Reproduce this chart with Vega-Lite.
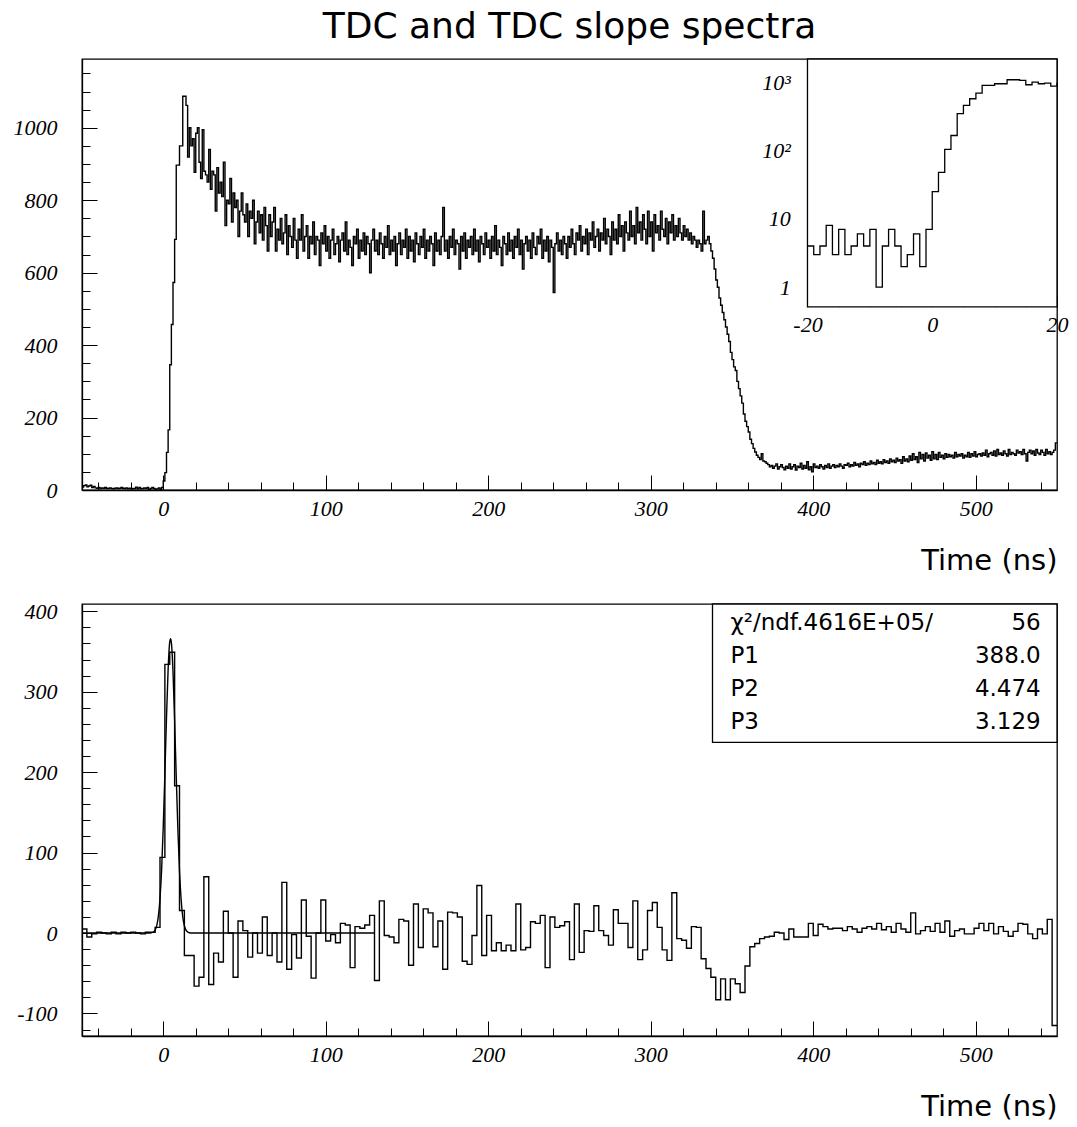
{
  "$schema": "https://vega.github.io/schema/vega-lite/v6.json",
  "autosize": {"type": "none"},
  "padding": {"left": 82, "top": 59, "right": 20, "bottom": 1068},
  "background": "white",
  "title": {"text": "TDC and TDC slope spectra", "font": "DejaVu Sans", "fontSize": 36, "fontWeight": "normal", "anchor": "middle", "frame": "group", "baseline": "alphabetic", "offset": -24, "color": "black"},
  "spacing": 114,
  "bounds": "flush",
  "config": {
    "view": {"stroke": "black", "strokeWidth": 1.3},
    "axis": {"labelFont": "Liberation Serif", "labelFontStyle": "italic", "labelFontSize": 22, "labelColor": "black", "tickColor": "black", "tickWidth": 1, "domainColor": "black", "domainWidth": 1.3, "grid": false, "titleFont": "DejaVu Sans", "titleFontWeight": "normal", "titleFontSize": 29, "titleColor": "black", "labelOverlap": false, "labelFlush": false, "labelBound": false}
  },
  "vconcat": [
    {
      "width": 975,
      "height": 431,
      "data": {"values": "t,n\n-50,8\n-49,12\n-48,14\n-47,9\n-46,11\n-45,13\n-44,7\n-43,10\n-42,6\n-41,5\n-40,7\n-39,4\n-38,6\n-37,5\n-36,7\n-35,4\n-34,5\n-33,6\n-32,4\n-31,3\n-30,5\n-29,6\n-28,4\n-27,5\n-26,7\n-25,5\n-24,4\n-23,6\n-22,3\n-21,5\n-20,4\n-19,3\n-18,4\n-17,8\n-16,3\n-15,7\n-14,3\n-13,4\n-12,6\n-11,4\n-10,7\n-9,1\n-8,4\n-7,7\n-6,4\n-5,2\n-4,3\n-3,6\n-2,2\n-1,7\n0,25\n1,48\n2,104\n3,166\n4,346\n5,457\n6,573\n7,692\n8,897\n9,897\n10,950\n11,950\n12,1087\n13,1087\n14,1062\n15,919\n16,1000\n17,950\n18,970\n19,877\n20,985\n21,1000\n22,905\n23,860\n24,995\n25,880\n26,870\n27,850\n28,940\n29,830\n30,880\n31,870\n32,770\n33,890\n34,820\n35,850\n36,810\n37,905\n38,730\n39,800\n40,790\n41,860\n42,740\n43,820\n44,780\n45,800\n46,700\n47,770\n48,820\n49,760\n50,740\n51,790\n52,700\n53,770\n54,750\n55,800\n56,680\n57,740\n58,770\n59,710\n60,760\n61,690\n62,780\n63,730\n64,660\n65,760\n66,700\n67,740\n68,780\n69,660\n70,720\n71,690\n72,750\n73,680\n74,710\n75,760\n76,650\n77,730\n78,700\n79,670\n80,750\n81,690\n82,640\n83,720\n84,690\n85,760\n86,660\n87,700\n88,730\n89,640\n90,700\n91,680\n92,740\n93,650\n94,700\n95,690\n96,620\n97,710\n98,680\n99,730\n100,660\n101,700\n102,640\n103,690\n104,720\n105,650\n106,680\n107,700\n108,630\n109,690\n110,710\n111,660\n112,740\n113,650\n114,690\n115,670\n116,620\n117,700\n118,680\n119,720\n120,640\n121,690\n122,660\n123,710\n124,650\n125,700\n126,680\n127,600\n128,690\n129,720\n130,660\n131,690\n132,650\n133,710\n134,680\n135,640\n136,700\n137,670\n138,730\n139,650\n140,690\n141,660\n142,700\n143,620\n144,680\n145,710\n146,650\n147,690\n148,670\n149,720\n150,640\n151,700\n152,660\n153,690\n154,630\n155,710\n156,680\n157,650\n158,700\n159,670\n160,720\n161,640\n162,690\n163,660\n164,700\n165,680\n166,620\n167,710\n168,660\n169,690\n170,650\n171,700\n172,780\n173,660\n174,690\n175,640\n176,700\n177,670\n178,720\n179,650\n180,690\n181,680\n182,610\n183,700\n184,660\n185,710\n186,640\n187,690\n188,670\n189,700\n190,650\n191,720\n192,660\n193,690\n194,630\n195,700\n196,680\n197,650\n198,710\n199,670\n200,690\n201,640\n202,700\n203,660\n204,730\n205,650\n206,690\n207,670\n208,620\n209,700\n210,680\n211,650\n212,710\n213,660\n214,690\n215,640\n216,700\n217,670\n218,720\n219,650\n220,690\n221,610\n222,680\n223,700\n224,660\n225,690\n226,640\n227,710\n228,670\n229,650\n230,700\n231,680\n232,720\n233,640\n234,690\n235,660\n236,700\n237,630\n238,690\n239,670\n240,545\n241,680\n242,710\n243,660\n244,690\n245,650\n246,700\n247,680\n248,640\n249,700\n250,670\n251,720\n252,680\n253,650\n254,710\n255,690\n256,730\n257,660\n258,700\n259,680\n260,720\n261,650\n262,710\n263,690\n264,740\n265,670\n266,700\n267,720\n268,660\n269,710\n270,690\n271,750\n272,680\n273,720\n274,700\n275,650\n276,740\n277,690\n278,720\n279,680\n280,760\n281,700\n282,730\n283,660\n284,740\n285,710\n286,690\n287,770\n288,700\n289,730\n290,680\n291,780\n292,710\n293,740\n294,690\n295,760\n296,720\n297,680\n298,770\n299,700\n300,740\n301,660\n302,760\n303,710\n304,730\n305,690\n306,770\n307,720\n308,700\n309,750\n310,680\n311,740\n312,710\n313,760\n314,690\n315,730\n316,700\n317,750\n318,710\n319,690\n320,730\n321,700\n322,720\n323,690\n324,710\n325,680\n326,700\n327,690\n328,670\n329,690\n330,680\n331,660\n332,770\n333,680\n334,690\n335,700\n336,680\n337,660\n338,640\n339,610\n340,580\n341,560\n342,530\n343,510\n344,490\n345,470\n346,450\n347,430\n348,410\n349,380\n350,360\n351,340\n352,330\n353,300\n354,280\n355,260\n356,240\n357,210\n358,190\n359,175\n360,160\n361,140\n362,128\n363,115\n364,105\n365,96\n366,90\n367,84\n368,100\n369,80\n370,78\n371,74\n372,70\n373,64\n374,68\n375,60\n376,66\n377,72\n378,58\n379,64\n380,70\n381,62\n382,56\n383,66\n384,60\n385,72\n386,58\n387,64\n388,70\n389,55\n390,66\n391,62\n392,74\n393,58\n394,68\n395,60\n396,78\n397,56\n398,64\n399,50\n400,72\n401,62\n402,66\n403,60\n404,70\n405,64\n406,58\n407,68\n408,62\n409,72\n410,60\n411,66\n412,70\n413,62\n414,68\n415,64\n416,72\n417,66\n418,60\n419,70\n420,68\n421,74\n422,64\n423,70\n424,66\n425,76\n426,68\n427,72\n428,64\n429,74\n430,70\n431,78\n432,68\n433,74\n434,70\n435,80\n436,72\n437,76\n438,70\n439,82\n440,74\n441,78\n442,72\n443,84\n444,76\n445,80\n446,74\n447,86\n448,78\n449,82\n450,76\n451,88\n452,80\n453,84\n454,74\n455,92\n456,80\n457,86\n458,78\n459,94\n460,82\n461,100\n462,84\n463,92\n464,76\n465,104\n466,86\n467,98\n468,80\n469,102\n470,88\n471,96\n472,82\n473,106\n474,86\n475,98\n476,84\n477,104\n478,90\n479,96\n480,86\n481,100\n482,90\n483,98\n484,92\n485,96\n486,88\n487,104\n488,92\n489,98\n490,94\n491,100\n492,88\n493,96\n494,92\n495,104\n496,90\n497,100\n498,94\n499,106\n500,92\n501,98\n502,100\n503,94\n504,102\n505,96\n506,110\n507,92\n508,100\n509,104\n510,96\n511,108\n512,94\n513,112\n514,98\n515,102\n516,96\n517,108\n518,100\n519,94\n520,112\n521,98\n522,104\n523,100\n524,96\n525,110\n526,102\n527,106\n528,98\n529,112\n530,100\n531,80\n532,104\n533,110\n534,100\n535,108\n536,96\n537,112\n538,102\n539,98\n540,110\n541,104\n542,96\n543,112\n544,100\n545,106\n546,98\n547,104\n548,110\n549,130\n550,130", "format": {"type": "csv", "parse": {"t": "number", "n": "number"}}},
      "resolve": {"scale": {"x": "independent", "y": "independent"}},
      "layer": [
        {
          "mark": {"type": "line", "interpolate": "step-after", "color": "black", "strokeWidth": 1.4},
          "encoding": {
            "x": {"field": "t", "type": "quantitative", "scale": {"domain": [-50, 550], "nice": false, "zero": false},
              "axis": {"values": [-40,-20,0,20,40,60,80,100,120,140,160,180,200,220,240,260,280,300,320,340,360,380,400,420,440,460,480,500,520,540],
                "tickSize": {"condition": {"test": "datum.value % 100 === 0", "value": -15}, "value": -8},
                "labelExpr": "datum.value % 100 === 0 ? '' + datum.value : ''", "labelOverlap": false,
                "labelPadding": 23, "title": "Time (ns)", "titleX": 975, "titleY": 79, "titleAlign": "right", "titleBaseline": "alphabetic"}},
            "y": {"field": "n", "type": "quantitative", "scale": {"domain": [0, 1190], "nice": false, "zero": false},
              "axis": {"values": [0,50,100,150,200,250,300,350,400,450,500,550,600,650,700,750,800,850,900,950,1000,1050,1100,1150],
                "tickSize": {"condition": {"test": "datum.value % 200 === 0", "value": -15}, "value": -8},
                "labelExpr": "datum.value % 200 === 0 ? '' + datum.value : ''", "labelOverlap": false,
                "labelPadding": 40, "title": null}}
          }
        },
        {
          "data": {"values": [{}]},
          "mark": {"type": "rect", "fill": "white", "stroke": "black", "strokeWidth": 1.3},
          "encoding": {
            "x": {"datum": -20, "type": "quantitative", "scale": {"domain": [-136.3, 20], "nice": false, "zero": false}, "axis": null},
            "x2": {"datum": 20},
            "y": {"datum": 0.513, "type": "quantitative", "scale": {"type": "log", "domain": [0.00107, 2188], "nice": false}, "axis": null},
            "y2": {"datum": 2188}
          }
        },
        {
          "transform": [{"filter": "datum.t >= -20 && datum.t <= 20"}],
          "mark": {"type": "line", "interpolate": "step-after", "color": "black", "strokeWidth": 1.3},
          "encoding": {
            "x": {"field": "t", "type": "quantitative", "scale": {"domain": [-136.3, 20], "nice": false, "zero": false},
              "axis": {"orient": "bottom", "offset": -183.3, "domain": false, "values": [-20,-15,-10,-5,0,5,10,15,20],
                "tickSize": {"condition": {"test": "datum.value % 20 === 0", "value": -11}, "value": -5},
                "labelExpr": "datum.value % 20 === 0 ? '' + datum.value : ''", "labelOverlap": false,
                "labelPadding": 19, "title": null}},
            "y": {"field": "n", "type": "quantitative", "scale": {"type": "log", "domain": [0.00107, 2188], "nice": false},
              "axis": {"orient": "left", "offset": -725.3, "domain": false, "values": [1,2,3,4,5,6,7,8,9,10,20,30,40,50,60,70,80,90,100,200,300,400,500,600,700,800,900,1000,2000],
                "tickSize": {"condition": {"test": "indexof([1,10,100,1000], datum.value) >= 0", "value": -17}, "value": -7},
                "labelExpr": "datum.value === 1000 ? '10³' : datum.value === 100 ? '10²' : datum.value === 10 ? '10' : datum.value === 1 ? '1' : ''", "labelOverlap": false,
                "labelPadding": 34, "title": null}}
          }
        }
      ]
    },
    {
      "width": 975,
      "height": 432,
      "resolve": {"scale": {"x": "independent", "y": "independent"}},
      "layer": [
        {
          "data": {"values": "t,n\n-50,5\n-47,-5\n-44,-1\n-41,1\n-38,0\n-35,-1\n-32,1\n-29,-1\n-26,1\n-23,0\n-20,1\n-17,0\n-14,-1\n-11,1\n-8,1\n-5,7\n-2,94\n1,334\n4,349\n7,183\n10,28\n13,-28\n16,-28\n19,-66\n22,-55\n25,70\n28,-64\n31,-25\n34,-36\n37,27\n40,0\n43,-55\n46,15\n49,3\n52,-30\n55,0\n58,-25\n61,20\n64,-28\n67,0\n70,-36\n73,63\n76,-45\n79,-2\n82,-31\n85,41\n88,-4\n91,-56\n94,0\n97,41\n100,-10\n103,-2\n106,-12\n109,12\n112,10\n115,-43\n118,8\n121,6\n124,10\n127,22\n130,-59\n133,40\n136,-3\n139,-5\n142,-12\n145,17\n148,15\n151,-40\n154,36\n157,-18\n160,30\n163,25\n166,-17\n169,15\n172,-45\n175,26\n178,25\n181,20\n184,-35\n187,-39\n190,-3\n193,59\n196,-28\n199,22\n202,-22\n205,-12\n208,-22\n211,-15\n214,-22\n217,36\n220,-21\n223,-18\n226,14\n229,12\n232,22\n235,-43\n238,20\n241,7\n244,9\n247,14\n250,-33\n253,36\n256,-24\n259,3\n262,2\n265,34\n268,3\n271,-3\n274,-15\n277,29\n280,12\n283,12\n286,-18\n289,40\n292,-33\n295,-21\n298,28\n301,38\n304,7\n307,-21\n310,-34\n313,50\n316,-7\n319,-9\n322,-19\n325,8\n328,7\n331,-32\n334,-44\n337,-55\n340,-83\n343,-57\n346,-83\n349,-57\n352,-63\n355,-74\n358,-41\n361,-17\n364,-13\n367,-7\n370,-5\n373,-4\n376,1\n379,0\n382,-8\n385,5\n388,-5\n391,-5\n394,-5\n397,12\n400,-3\n403,11\n406,8\n409,5\n412,6\n415,6\n418,3\n421,8\n424,5\n427,1\n430,6\n433,8\n436,5\n439,12\n442,4\n445,8\n448,1\n451,12\n454,5\n457,1\n460,25\n463,-1\n466,3\n469,8\n472,2\n475,12\n478,1\n481,15\n484,-4\n487,3\n490,5\n493,-1\n496,-1\n499,6\n502,12\n505,3\n508,12\n511,-1\n514,8\n517,2\n520,-4\n523,2\n526,12\n529,11\n532,-1\n535,-7\n538,5\n541,-1\n544,17\n547,-115\n550,-115", "format": {"type": "csv", "parse": {"t": "number", "n": "number"}}},
          "mark": {"type": "line", "interpolate": "step-after", "color": "black", "strokeWidth": 1.4},
          "encoding": {
            "x": {"field": "t", "type": "quantitative", "scale": {"domain": [-50, 550], "nice": false, "zero": false},
              "axis": {"values": [-40,-20,0,20,40,60,80,100,120,140,160,180,200,220,240,260,280,300,320,340,360,380,400,420,440,460,480,500,520,540],
                "tickSize": {"condition": {"test": "datum.value % 100 === 0", "value": -15}, "value": -8},
                "labelExpr": "datum.value % 100 === 0 ? '' + datum.value : ''", "labelOverlap": false,
                "labelPadding": 23, "title": "Time (ns)", "titleX": 975, "titleY": 79, "titleAlign": "right", "titleBaseline": "alphabetic"}},
            "y": {"field": "n", "type": "quantitative", "scale": {"domain": [-128, 409], "nice": false, "zero": false},
              "axis": {"values": [-120,-100,-80,-60,-40,-20,0,20,40,60,80,100,120,140,160,180,200,220,240,260,280,300,320,340,360,380,400],
                "tickSize": {"condition": {"test": "datum.value % 100 === 0", "value": -15}, "value": -8},
                "labelExpr": "datum.value % 100 === 0 ? '' + datum.value : ''", "labelOverlap": false,
                "labelPadding": 40, "title": null}}
          }
        },
        {
          "data": {"values": "t,f\n-50,0\n-8,0.1\n-6,1.3\n-5,3.7\n-4,9.3\n-3,21\n-2,43\n-1,79\n0,132\n1,198\n2,268\n3,328\n4,362\n4.5,366\n5,361\n6,325\n7,264\n8,194\n9,129\n10,77\n11,42\n12,20\n13,9\n14,3.6\n15,1.3\n16,0.4\n18,0\n130,0", "format": {"type": "csv", "parse": {"t": "number", "f": "number"}}},
          "mark": {"type": "line", "interpolate": "monotone", "color": "black", "strokeWidth": 1.4},
          "encoding": {
            "x": {"field": "t", "type": "quantitative", "scale": {"domain": [-50, 550], "nice": false, "zero": false}, "axis": null},
            "y": {"field": "f", "type": "quantitative", "scale": {"domain": [-128, 409], "nice": false, "zero": false}, "axis": null}
          }
        },
        {
          "data": {"values": [{}]},
          "mark": {"type": "rect", "fill": "white", "stroke": "black", "strokeWidth": 1.3},
          "encoding": {
            "x": {"datum": 338, "type": "quantitative", "scale": {"domain": [-50, 550], "nice": false, "zero": false}, "axis": null},
            "x2": {"datum": 550},
            "y": {"datum": 237, "type": "quantitative", "scale": {"domain": [-128, 409], "nice": false, "zero": false}, "axis": null},
            "y2": {"datum": 409}
          }
        },
        {
          "data": {"values": [{"k": "χ²/ndf.4616E+05/", "v": "56"}, {"k": "P1", "v": "388.0"}, {"k": "P2", "v": "4.474"}, {"k": "P3", "v": "3.129"}]},
          "mark": {"type": "text", "align": "left", "baseline": "middle", "font": "DejaVu Sans", "fontSize": 23, "color": "black"},
          "encoding": {
            "x": {"datum": 349, "type": "quantitative", "scale": {"domain": [-50, 550], "nice": false, "zero": false}, "axis": null},
            "y": {"field": "k", "type": "ordinal", "sort": null, "scale": {"type": "point", "domain": ["χ²/ndf.4616E+05/", "P1", "P2", "P3"], "range": [19, 118], "padding": 0}, "axis": null},
            "text": {"field": "k"}
          }
        },
        {
          "data": {"values": [{"k": "χ²/ndf.4616E+05/", "v": "56"}, {"k": "P1", "v": "388.0"}, {"k": "P2", "v": "4.474"}, {"k": "P3", "v": "3.129"}]},
          "mark": {"type": "text", "align": "right", "baseline": "middle", "font": "DejaVu Sans", "fontSize": 23, "color": "black"},
          "encoding": {
            "x": {"datum": 540, "type": "quantitative", "scale": {"domain": [-50, 550], "nice": false, "zero": false}, "axis": null},
            "y": {"field": "k", "type": "ordinal", "sort": null, "scale": {"type": "point", "domain": ["χ²/ndf.4616E+05/", "P1", "P2", "P3"], "range": [19, 118], "padding": 0}, "axis": null},
            "text": {"field": "v"}
          }
        }
      ]
    }
  ]
}
